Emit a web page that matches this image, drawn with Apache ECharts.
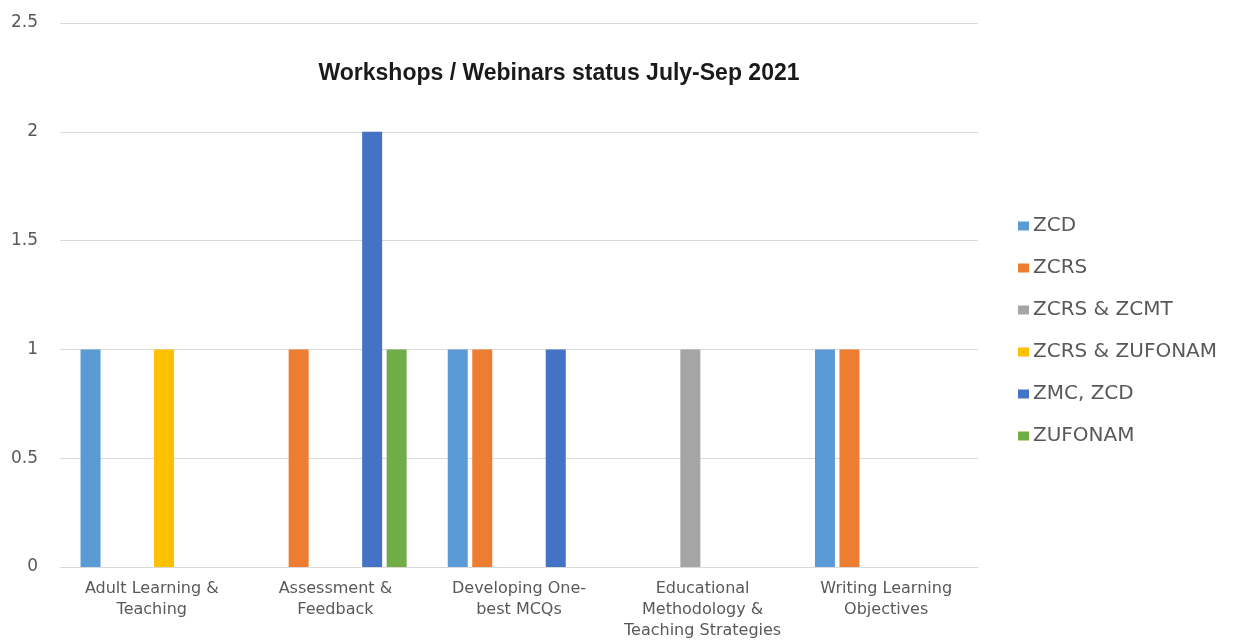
<!DOCTYPE html>
<html>
<head>
<meta charset="utf-8">
<script src="https://cdn.jsdelivr.net/npm/echarts@6/dist/echarts.min.js"></script>
<style>
html,body{margin:0;padding:0;background:#fff;}
#chart{width:1246px;height:643px;}
</style>
</head>
<body>
<div id="chart"></div>
<script>
const categories = [
  "Adult Learning &\nTeaching",
  "Assessment &\nFeedback",
  "Developing One-\nbest MCQs",
  "Educational\nMethodology &\nTeaching Strategies",
  "Writing Learning\nObjectives"
];
const seriesNames = ["ZCD", "ZCRS", "ZCRS & ZCMT", "ZCRS & ZUFONAM", "ZMC, ZCD", "ZUFONAM"];
const zcd = [1, 0, 1, 0, 1];
const zcrs = [0, 1, 1, 0, 1];
const zcrsZcmt = [0, 0, 0, 1, 0];
const zcrsZufonam = [1, 0, 0, 0, 0];
const zmcZcd = [0, 2, 1, 0, 0];
const zufonam = [0, 1, 0, 0, 0];
const yTicks = [0, 0.5, 1, 1.5, 2, 2.5];

const colors = ["#5B9BD5", "#ED7D31", "#A5A5A5", "#FFC000", "#4472C4", "#70AD47"];
const values = [zcd, zcrs, zcrsZcmt, zcrsZufonam, zmcZcd, zufonam];

const chart = echarts.init(document.getElementById('chart'));
const font = "'DejaVu Sans', sans-serif";
chart.setOption({
  animation: false,
  color: colors,
  title: {
    text: "Workshops / Webinars status July-Sep 2021",
    left: 554, top: 57, textAlign: 'center',
    textStyle: {fontFamily: "'Liberation Sans', Arial, sans-serif", fontWeight: 'bold', fontSize: 23, color: '#1a1a1a'}
  },
  legend: {
    orient: 'vertical', left: 1013, top: 211,
    itemWidth: 11, itemHeight: 9, itemGap: 22,
    icon: 'rect',
    data: seriesNames,
    textStyle: {fontFamily: font, fontSize: 20, color: '#595959', padding: [0,0,0,-1]}
  },
  grid: {left: 60, right: 268, top: 23, bottom: 76},
  xAxis: {
    type: 'category', data: categories,
    axisLine: {lineStyle: {color: '#d9d9d9', width: 1}},
    axisTick: {show: false},
    axisLabel: {fontFamily: font, fontSize: 16, color: '#595959', lineHeight: 21, margin: 11, interval: 0}
  },
  yAxis: {
    type: 'value', min: yTicks[0], max: yTicks[yTicks.length-1], interval: 0.5,
    axisLine: {show: false}, axisTick: {show: false},
    splitLine: {lineStyle: {color: '#d9d9d9', width: 1}},
    axisLabel: {fontFamily: font, fontSize: 17, color: '#595959', margin: 22}
  },
  series: seriesNames.map((n, i) => ({
    name: n, type: 'bar', data: values[i],
    barWidth: 20, barGap: '22.5%'
  }))
});
</script>
</body>
</html>
